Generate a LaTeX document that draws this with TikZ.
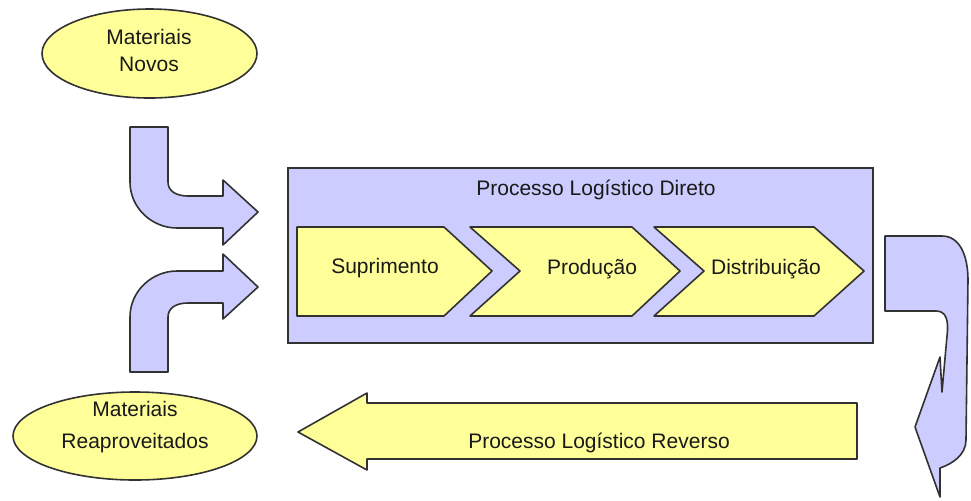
\documentclass[tikz,border=0pt]{standalone}
\usepackage{fontspec}
\setmainfont{Liberation Sans}
\usetikzlibrary{shapes.geometric, positioning}
\definecolor{procLav}{RGB}{204,204,255}
\definecolor{procYellow}{RGB}{255,255,153}
\definecolor{procLine}{RGB}{50,50,50}

\begin{document}
\begin{tikzpicture}[
  x=0.5pt, y=-0.5pt,
  blockarrow/.style={draw=procLine, fill=procLav, line width=0.8pt, line join=round},
  stage/.style={draw=procLine, fill=procYellow, line width=0.8pt, line join=round},
  panel/.style={draw=procLine, fill=procLav, line width=0.8pt},
  material/.style={ellipse, draw=procLine, fill=procYellow, line width=0.8pt, inner sep=0pt},
  caption/.style={font=\fontsize{10.5}{13.5}\selectfont, text=black!90, inner sep=0pt, align=center}
]
\useasboundingbox (0,0) rectangle (971,500);

% Materials
\node[material, minimum width=107.5pt, minimum height=44.5pt] (novos) at (149.5,53.5) {};
\node[caption] (novosText) at (149,50) {Materiais\\Novos};
\node[material, minimum width=122pt, minimum height=44pt] (reapr) at (135,436) {};
\node[caption, font=\fontsize{10.5}{16}\selectfont] (reaprText) at (135,427) {Materiais\\Reaproveitados};

% Incoming bent arrows
\draw[blockarrow] (130,127) -- (168,127) -- (168,182)
  .. controls (168,191) and (176,196) .. (188,196) -- (223,196) -- (223,180)
  -- (258,212) -- (223,245) -- (223,228) -- (177,228)
  .. controls (152,228) and (130,208) .. (130,182) -- cycle;
\draw[blockarrow] (130,372) -- (168,372) -- (168,317)
  .. controls (168,308) and (176,303) .. (188,303) -- (223,303) -- (223,319)
  -- (258,287) -- (223,254) -- (223,271) -- (177,271)
  .. controls (152,271) and (130,291) .. (130,317) -- cycle;

% Direct process
\draw[panel] (288,168) rectangle (873,343);
\node[caption] (direto) at (596,190) {Processo Logístico Direto};

\draw[stage] (297,227) -- (444,227) -- (492,271) -- (444,316) -- (297,316) -- cycle;
\draw[stage] (470,227) -- (632,227) -- (680,271) -- (632,316) -- (470,316) -- (520,271) -- cycle;
\draw[stage] (654,227) -- (814,227) -- (864,271) -- (814,316) -- (654,316) -- (704,271) -- cycle;
\node[caption] (supr) at (385,268) {Suprimento};
\node[caption] (prod) at (592,269) {Produção};
\node[caption] (dist) at (766,269) {Distribuição};

% Turning arrow
\draw[blockarrow] (885,236) -- (942,236)
  .. controls (960,236) and (968,256) .. (968,280) -- (966,440)
  .. controls (966,455) and (952,464) .. (940,468) -- (940,497)
  -- (915,427) -- (940,357) -- (942,392) -- (947,336)
  .. controls (949,320) and (946,311) .. (936,311) -- (885,311) -- cycle;

% Reverse process
\draw[stage] (857,403) -- (367,403) -- (367,393) -- (298,432) -- (367,470)
  -- (367,459) -- (857,459) -- cycle;
\node[caption] (reverso) at (599,443) {Processo Logístico Reverso};
\end{tikzpicture}
\end{document}
